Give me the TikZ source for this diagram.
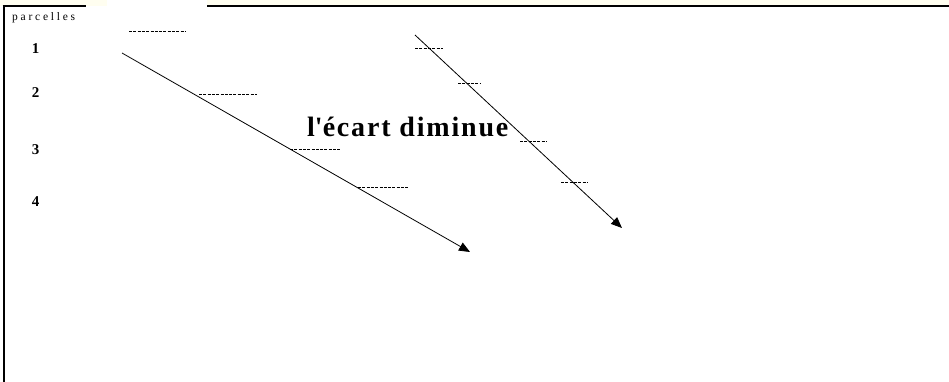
\documentclass[tikz,border=0pt]{standalone}
\usepackage{fontspec}
\setmainfont{Liberation Serif}
\usetikzlibrary{arrows.meta}
\definecolor{cream}{HTML}{FFFEF0}
\tikzset{
  frame/.style={line width=2pt, black},
  dashmark/.style={line width=0.8pt, dash pattern=on 3pt off 1.3pt},
  arrowline/.style={line width=0.8pt, -{Triangle[length=11pt,width=9pt]}},
  numlabel/.style={anchor=base, font=\fontsize{15}{15}\selectfont\bfseries, inner sep=0pt},
}
\begin{document}
\begin{tikzpicture}[x=1pt,y=-1pt]
\useasboundingbox (0,0) rectangle (949,382);
\fill[white] (0,0) rectangle (949,382);
% top cream strip
\fill[cream] (0,0) rectangle (949,6);
\fill[white] (107,0) rectangle (207,10);
% frame lines
\draw[frame] (2.5,6.5) -- (86,6.5);
\draw[frame] (207,6.5) -- (949,6.5);
\draw[frame] (3.5,5.5) -- (3.5,382);
% labels
\node[anchor=base west, inner sep=0pt, font=\fontsize{11.5}{11.5}\selectfont\addfontfeature{LetterSpace=24}] (parc) at (12,21) {parcelles};
\node[numlabel] (n1) at (35.5,54) {1};
\node[numlabel] (n2) at (35.5,98) {2};
\node[numlabel] (n3) at (35.5,154) {3};
\node[numlabel] (n4) at (35.5,206) {4};
\node[anchor=base west, inner sep=0pt, font=\fontsize{28}{28}\selectfont\bfseries\addfontfeature{LetterSpace=6.5}] (ecart) at (307,137) {l\textquotesingle écart diminue};
% dashed marks
\draw[dashmark] (129,31) -- (186,31);
\draw[dashmark] (199,94) -- (257,94);
\draw[dashmark] (290,149) -- (341,149);
\draw[dashmark] (358,187) -- (408,187);
\draw[dashmark] (415,48) -- (443,48);
\draw[dashmark] (458,83) -- (481,83);
\draw[dashmark] (520,141) -- (547,141);
\draw[dashmark] (561,182) -- (588,182);
% arrows
\coordinate (a1s) at (122,53);
\coordinate (a1e) at (470,252);
\coordinate (a2s) at (415,35);
\coordinate (a2e) at (622,228);
\draw[arrowline] (a1s) -- (a1e);
\draw[arrowline] (a2s) -- (a2e);
\end{tikzpicture}
\end{document}
